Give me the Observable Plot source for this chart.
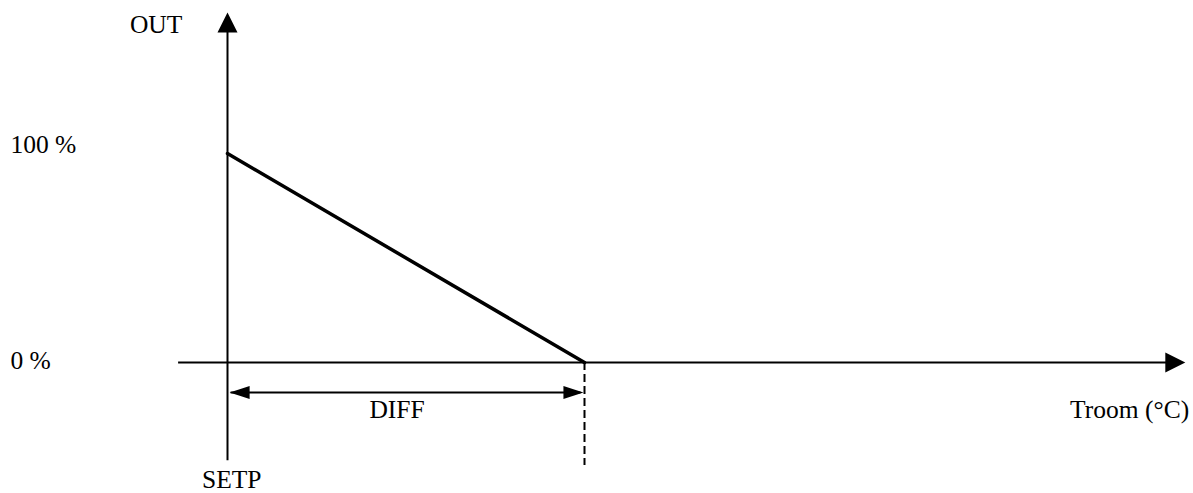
<!DOCTYPE html>
<html>
<head>
<meta charset="utf-8">
<script src="https://cdn.jsdelivr.net/npm/d3@7"></script>
<script src="https://cdn.jsdelivr.net/npm/@observablehq/plot@0.6"></script>
<style>
  html, body { margin: 0; padding: 0; background: #fff; }
  svg { display: block; }
</style>
</head>
<body>
<div id="chart"></div>
<script>
// ---- data ----
// x in units of the differential (SETP = 0, SETP + DIFF = 1), y = output %
const curveX = [0, 1];
const curveY = [100, 0];
const outTicks = [0, 100];
const outTickLabels = ["0 %", "100 %"];
const xMarkers = [0, 1];            // SETP and SETP + DIFF
const xMarkerLabels = ["SETP"];
const yAxisTitle = "OUT";
const xAxisTitle = "Troom (°C)";
const diffLabel = "DIFF";

// ---- layout (data units) ----
const xAxisStart = -0.137, xAxisEnd = 2.65, xAxisTip = 2.683;
const yAxisBottom = -47, yAxisEnd = 160, yAxisTip = 167.5;
const diffY = -14.4;
const dashBottom = -49.3;
const tickLabelX = -0.608;
const tickLabelY = { 0: 1, 100: 104.3 };
const bottomLabelY = -22.5;

const tri = (pts) => ({
  draw(ctx) {
    ctx.moveTo(pts[0][0], pts[0][1]);
    ctx.lineTo(pts[1][0], pts[1][1]);
    ctx.lineTo(pts[2][0], pts[2][1]);
    ctx.closePath();
  }
});
const headUp = tri([[0, 0], [-10, 20], [10, 20]]);
const headRight = tri([[0, 0], [-20, -10], [-20, 10]]);
const smallLeft = tri([[0, 0], [20, -6.5], [20, 6.5]]);
const smallRight = tri([[0, 0], [-20, -6.5], [-20, 6.5]]);

const font = "'Liberation Serif', 'Times New Roman', serif";
const fs = 25.5;

const chart = Plot.plot({
  width: 1193,
  height: 493,
  margin: 0,
  style: { background: "#fff", fontFamily: font },
  x: { domain: [0, 1], range: [227, 584], axis: null },
  y: { domain: [0, 100], range: [362, 153], axis: null },
  marks: [
    // x axis
    Plot.ruleY([0], { x1: xAxisStart, x2: xAxisEnd, stroke: "black", strokeWidth: 2 }),
    Plot.dot([0], { x: () => xAxisTip, y: d => d, symbol: headRight, r: 10, fill: "black", stroke: "none" }),
    // y axis
    Plot.ruleX([xMarkers[0]], { y1: yAxisBottom, y2: yAxisEnd, stroke: "black", strokeWidth: 2 }),
    Plot.dot([xMarkers[0]], { x: d => d, y: () => yAxisTip, symbol: headUp, r: 10, fill: "black", stroke: "none" }),
    // dashed marker at SETP + DIFF
    Plot.ruleX([xMarkers[1]], { y1: 0, y2: dashBottom, stroke: "black", strokeWidth: 2, strokeDasharray: "8,4" }),
    // DIFF dimension arrow
    Plot.ruleY([diffY], { x1: xMarkers[0] + 0.01, x2: xMarkers[1] - 0.01, stroke: "black", strokeWidth: 2 }),
    Plot.dot([xMarkers[0] + 0.006], { x: d => d, y: () => diffY, symbol: smallLeft, r: 10, fill: "black", stroke: "none" }),
    Plot.dot([xMarkers[1] - 0.003], { x: d => d, y: () => diffY, symbol: smallRight, r: 10, fill: "black", stroke: "none" }),
    // output curve
    Plot.line(curveX.map((x, i) => ({ x, y: curveY[i] })), { x: "x", y: "y", stroke: "black", strokeWidth: 3.5 }),
    // y tick labels
    Plot.text(outTicks.map((v, i) => ({ v, label: outTickLabels[i] })), {
      x: () => tickLabelX, y: d => tickLabelY[d.v], text: "label",
      textAnchor: "start", fontSize: fs, fill: "black", fontFamily: font
    }),
    // axis titles & labels
    Plot.text([yAxisTitle], { x: () => -0.2, y: () => 161.7, text: d => d, fontSize: fs, fill: "black", fontFamily: font }),
    Plot.text([xAxisTitle], { x: () => 2.527, y: () => bottomLabelY, text: d => d, fontSize: fs, fill: "black", fontFamily: font }),
    Plot.text([diffLabel], { x: () => 0.475, y: () => bottomLabelY, text: d => d, fontSize: fs, fill: "black", fontFamily: font }),
    Plot.text(xMarkerLabels, { x: () => xMarkers[0] + 0.012, y: () => -56.3, text: d => d, fontSize: fs, fill: "black", fontFamily: font })
  ]
});
document.getElementById("chart").appendChild(chart);
</script>
</body>
</html>
